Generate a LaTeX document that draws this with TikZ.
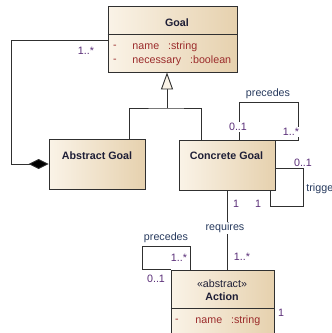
\documentclass[tikz,border=0pt]{standalone}
\usepackage{fontspec}
\setmainfont{Liberation Sans}
\usetikzlibrary{arrows.meta}
\definecolor{boxlight}{HTML}{FAF3E7}
\definecolor{boxdark}{HTML}{E6D1AE}
\definecolor{linecol}{HTML}{303030}
\definecolor{titlecol}{HTML}{1E1E36}
\definecolor{attrcol}{HTML}{9B2B2B}
\definecolor{multcol}{HTML}{5A2E78}
\definecolor{namecol}{HTML}{273A5E}
\tikzset{%
  classbox/.style={draw=linecol, line width=0.9pt, left color=boxlight,
                   middle color=boxlight!75!boxdark, right color=boxdark},
  title/.style={text=titlecol, font=\fontsize{10.7}{12.8}\selectfont\bfseries, inner sep=1pt},
  attr/.style={text=attrcol, inner sep=1pt},
  mult/.style={text=multcol, fill=white, inner sep=1pt},
  assoc/.style={text=namecol, fill=white, inner sep=1pt},
  gen/.style={-{Triangle[length=17pt,width=12pt,fill=boxlight]}},
  agg/.style={{Diamond[length=20pt,width=10pt,fill=black]}-},
}
\begin{document}
\begin{tikzpicture}[x=1pt,y=-1pt,line width=0.9pt,color=linecol,
                    font=\fontsize{10.7}{12.8}\selectfont]
  \useasboundingbox (0,0) rectangle (332,333);
  % classes
  \node[classbox, minimum width=129pt, minimum height=66pt] (goal) at (172.5,39) {};
  \draw ([yshift=-29pt]goal.north west) -- ([yshift=-29pt]goal.north east);
  \node[title] (goaltitle) at (177,23) {Goal};
  \node[attr] (goalbar1) at (115,47) {-};
  \node[attr, anchor=west] (goalname) at (131,47) {name\ \ \ :string};
  \node[attr] (goalbar2) at (115,61) {-};
  \node[attr, anchor=west] (goalnec) at (131,61) {necessary\ \ \ :boolean};

  \node[classbox, minimum width=96pt, minimum height=50pt] (abstract) at (97,164) {};
  \node[title] (abstracttitle) at (97,156) {Abstract Goal};

  \node[classbox, minimum width=96pt, minimum height=50pt] (concrete) at (227,165) {};
  \node[title] (concretetitle) at (226.5,156) {Concrete Goal};

  \node[classbox, minimum width=103pt, minimum height=68pt] (action) at (222.5,304) {};
  \draw ([yshift=-39pt]action.north west) -- ([yshift=-39pt]action.north east);
  \node[inner sep=1pt, text=titlecol] (actionstereo) at (222,284) {«abstract»};
  \node[title] (actiontitle) at (222,297) {Action};
  \node[attr] (actionbar) at (177,321) {-};
  \node[attr, anchor=west] (actionname) at (194,321) {name\ \ \ :string};

  % generalization
  \coordinate (genjoin) at (167,108);
  \draw[gen] (genjoin) -- (goal.south -| genjoin);
  \draw ([xshift=32pt]abstract.north) |- (genjoin) -| ([xshift=-26pt]concrete.north);

  % aggregation
  \coordinate (aggcorner) at (11,40);
  \draw[agg] (abstract.west) -| (aggcorner) -- (goal.west |- aggcorner);
  \node[mult] (aggmult) at (86,51) {1..*};

  % precedes on Concrete Goal
  \coordinate (cgloop) at (298,102);
  \draw ([xshift=12pt]concrete.north) |- (cgloop) |- ([yshift=-1pt]concrete.north east);
  \node[assoc] (cgprec) at (268,94) {precedes};
  \node[mult] (cgprecfrom) at (238,127) {0..1};
  \node[mult] (cgprecto) at (291,132) {1..*};

  % trigger
  \coordinate (trigcorner) at (303,206);
  \draw ([yshift=-3pt]concrete.east) -| (trigcorner) -| ([xshift=43pt]concrete.south);
  \node[mult] (trigfrom) at (303,163) {0..1};
  \node[assoc, anchor=west] (trigname) at (305,189) {trigger};
  \node[mult] (trigto) at (258,204) {1};

  % requires
  \draw (concrete.south) -- (concrete.south |- action.north);
  \node[mult] (reqfrom) at (236,204) {1};
  \node[assoc] (reqname) at (225,228) {requires};
  \node[mult] (reqto) at (242,257) {1..*};

  % precedes on Action
  \coordinate (actloop) at (142,246);
  \draw ([xshift=20pt]action.north west) |- (actloop) |- (action.north west);
  \node[assoc] (actprec) at (166,238) {precedes};
  \node[mult] (actprecto) at (179,258) {1..*};
  \node[mult] (actprecfrom) at (156,279) {0..1};
  \node[mult] (actionone) at (281,313) {1};
\end{tikzpicture}
\end{document}
